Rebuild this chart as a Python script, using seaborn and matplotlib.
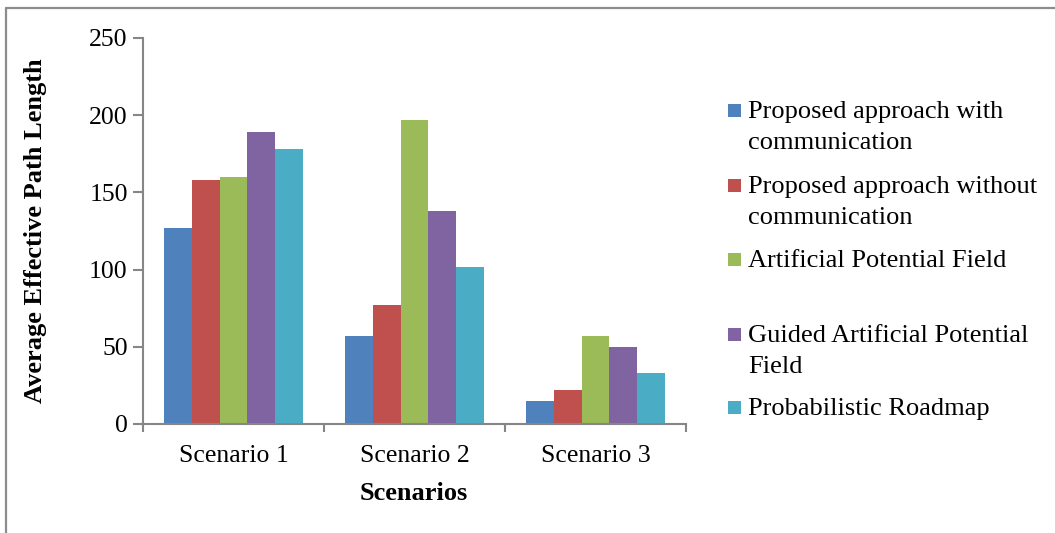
import matplotlib
matplotlib.use("Agg")
import matplotlib.pyplot as plt
from matplotlib.lines import Line2D
from matplotlib.patches import Rectangle
import seaborn as sns
import pandas as pd

# Chart data
scenarios = ["Scenario 1", "Scenario 2", "Scenario 3"]
methods = [
    "Proposed approach with\ncommunication",
    "Proposed approach without\ncommunication",
    "Artificial Potential Field",
    "Guided Artificial Potential\nField",
    "Probabilistic Roadmap",
]
with_comm = [127, 57, 15]
without_comm = [158, 77, 22]
apf = [160, 197, 57]
guided_apf = [189, 138, 50]
prm = [178, 102, 33]
y_ticks = [0, 50, 100, 150, 200, 250]

colors = ["#4F81BD", "#C0504D", "#9BBB59", "#8064A2", "#4BACC6"]

series = [with_comm, without_comm, apf, guided_apf, prm]
df = pd.DataFrame(
    [(sc, m, v[i]) for m, v in zip(methods, series) for i, sc in enumerate(scenarios)],
    columns=["Scenario", "Method", "Value"],
)

sns.set_theme(style="white")
plt.rcParams["font.family"] = ["Liberation Serif", "DejaVu Serif"]
plt.rcParams["text.color"] = "black"

W, H = 1055, 533
fig = plt.figure(figsize=(W / 100, H / 100), dpi=100)
ax = fig.add_axes([143 / W, 1 - 424 / H, (686 - 143) / W, (424 - 38) / H])

sns.barplot(
    data=df, x="Scenario", y="Value", hue="Method", hue_order=methods,
    palette=colors, width=5 / 6.5, gap=0, dodge=True, legend=False,
    saturation=1, ax=ax, edgecolor="none",
)

axis_gray = "#868686"
ax.set_xlim(-0.5, 2.5)
ax.set_ylim(0, 250)
ax.set_yticks(y_ticks)
ax.set_yticklabels([str(t) for t in y_ticks])
ax.set_xticks(range(len(scenarios)))
ax.set_xticklabels(scenarios)
ax.set_xticks([-0.5, 0.5, 1.5, 2.5], minor=True)
ax.set_xlabel("")
ax.set_ylabel("")

for side in ["top", "right"]:
    ax.spines[side].set_visible(False)
for side in ["left", "bottom"]:
    ax.spines[side].set_color(axis_gray)
    ax.spines[side].set_linewidth(1.5)

ax.tick_params(axis="y", which="major", direction="out", length=7, width=1.5,
               color=axis_gray, labelsize=18.5, pad=4, left=True, labelcolor="black")
ax.tick_params(axis="x", which="major", length=0, labelsize=18.5, pad=15,
               labelcolor="black")
ax.tick_params(axis="x", which="minor", direction="out", length=6, width=1.5,
               color=axis_gray, bottom=True)

# Axis titles
fig.text(36 / W, 1 - 231 / H, "Average Effective Path Length", rotation=90,
         ha="center", va="center", fontsize=19, fontweight="bold")
fig.text(414 / W, 1 - 493 / H, "Scenarios", ha="center", va="center",
         fontsize=19, fontweight="bold")

# Legend: square swatch beside the first line of each entry, wrapped lines below
baselines = [118, 193, 267, 342, 415]
line_step = 31
for label, color, yb in zip(methods, colors, baselines):
    fig.patches.append(Rectangle((728 / W, 1 - (yb - 1) / H), 13 / W, 13 / H,
                                 transform=fig.transFigure, facecolor=color,
                                 edgecolor="none"))
    for k, line in enumerate(label.split("\n")):
        fig.text(748 / W, 1 - (yb + k * line_step) / H, line, ha="left",
                 va="baseline", fontsize=19)

# Chart frame
frame_gray = "#8C8C8C"
fig.add_artist(Line2D([6 / W, 1.0], [1 - 8 / H, 1 - 8 / H], transform=fig.transFigure,
                      color=frame_gray, lw=1.6))
fig.add_artist(Line2D([6 / W, 6 / W], [1 - 8 / H, 0.0], transform=fig.transFigure,
                      color=frame_gray, lw=1.6))

fig.savefig("out.png", dpi=100, facecolor="white")
